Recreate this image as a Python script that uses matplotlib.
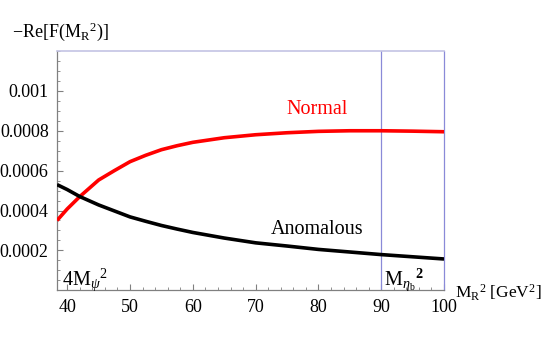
import matplotlib
matplotlib.use("Agg")
import matplotlib.pyplot as plt
from matplotlib.ticker import MultipleLocator

plt.rcParams['mathtext.fontset'] = 'custom'
plt.rcParams['mathtext.rm'] = 'Liberation Serif'
plt.rcParams['mathtext.it'] = 'Liberation Serif:italic'
plt.rcParams['mathtext.bf'] = 'Liberation Serif:bold'
plt.rcParams['font.family'] = ['Liberation Serif', 'DejaVu Serif']

# data
m2 = [38.37, 40, 42, 45, 47.5, 50, 52.5, 55, 57.5, 60, 65, 70, 75, 80, 85, 90, 95, 100]
normal = [0.00035, 0.000408, 0.00047, 0.000553, 0.0006, 0.000645, 0.000677, 0.000705,
          0.000725, 0.000742, 0.000765, 0.00078, 0.00079, 0.000797, 0.0008, 0.0008,
          0.000798, 0.000795]
anomalous = [0.00053, 0.000505, 0.00047, 0.000428, 0.000398, 0.000368, 0.000346,
             0.000325, 0.000307, 0.00029, 0.000262, 0.000238, 0.000222, 0.000205,
             0.000192, 0.000179, 0.000168, 0.000157]
x_ticks = [40, 50, 60, 70, 80, 90, 100]
y_ticks = [0.0002, 0.0004, 0.0006, 0.0008, 0.001]
y_tick_labels = ['0.0002', '0.0004', '0.0006', '0.0008', '0.001']
m_etab2 = 90
x_min = 38.37

fig = plt.figure(figsize=(5.45, 3.37), dpi=100)
ax = fig.add_axes([0.1046, 0.1386, 0.8147 - 0.1046, 0.8487 - 0.1386])

ax.plot(m2, normal, color='#ff0000', lw=2.6, solid_capstyle='butt', zorder=3)
ax.plot(m2, anomalous, color='black', lw=2.6, solid_capstyle='butt', zorder=3)

ax.axvline(m_etab2, color='#8a8ad8', lw=0.9, zorder=2)
ax.axvline(100, color='#8a8ad8', lw=0.9, zorder=2, clip_on=False)

ax.set_xlim(x_min, 100)
ax.set_ylim(0, 0.0012)

ax.spines['right'].set_visible(False)
ax.spines['top'].set_color('#c4c4e4')
ax.spines['top'].set_linewidth(1.2)
ax.spines['left'].set_color('#808080')
ax.spines['bottom'].set_color('#808080')
ax.spines['left'].set_linewidth(0.9)
ax.spines['bottom'].set_linewidth(0.9)

ax.set_xticks(x_ticks)
ax.set_xticklabels([str(t) for t in x_ticks])
ax.set_yticks(y_ticks)
ax.set_yticklabels(y_tick_labels)
ax.xaxis.set_minor_locator(MultipleLocator(2))
ax.yaxis.set_minor_locator(MultipleLocator(0.00005))
ax.tick_params(which='both', direction='in', top=False, right=False,
               color='#808080', labelsize=13, labelcolor='black')
ax.tick_params(which='major', length=4, width=0.8)
ax.tick_params(axis='y', which='major', pad=6)
ax.tick_params(axis='x', which='major', pad=6)
ax.tick_params(which='minor', length=2.2, width=0.6)

fig.text(12 / 545, 1 - 32 / 337, r'$-\mathrm{Re}[\mathrm{F}(\mathrm{M}_{\mathrm{R}}{}^{2})]$',
         fontsize=13, ha='left', va='center')
fig.text(455 / 545, 1 - 293 / 337, r'$\mathrm{M}_{\mathrm{R}}{}^{2}\ [\mathrm{GeV}^{2}]$',
         fontsize=12.5, ha='left', va='center')

ax.text(79.8, 0.000906, 'Normal', color='#ff0000', fontsize=14.5, ha='center', va='center')
ax.text(79.8, 0.000303, 'Anomalous', color='black', fontsize=14.5, ha='center', va='center')

ax.text(39.2, 0.000055, r'$4\mathrm{M}_{\psi}{}^{2}$', fontsize=14.5, ha='left', va='center')
ax.text(90.4, 0.000055, r'$\mathrm{M}_{\eta_{\mathrm{b}}}{}^{\mathbf{2}}$', fontsize=14.5,
        ha='left', va='center')

fig.savefig('out.png', dpi=100)
